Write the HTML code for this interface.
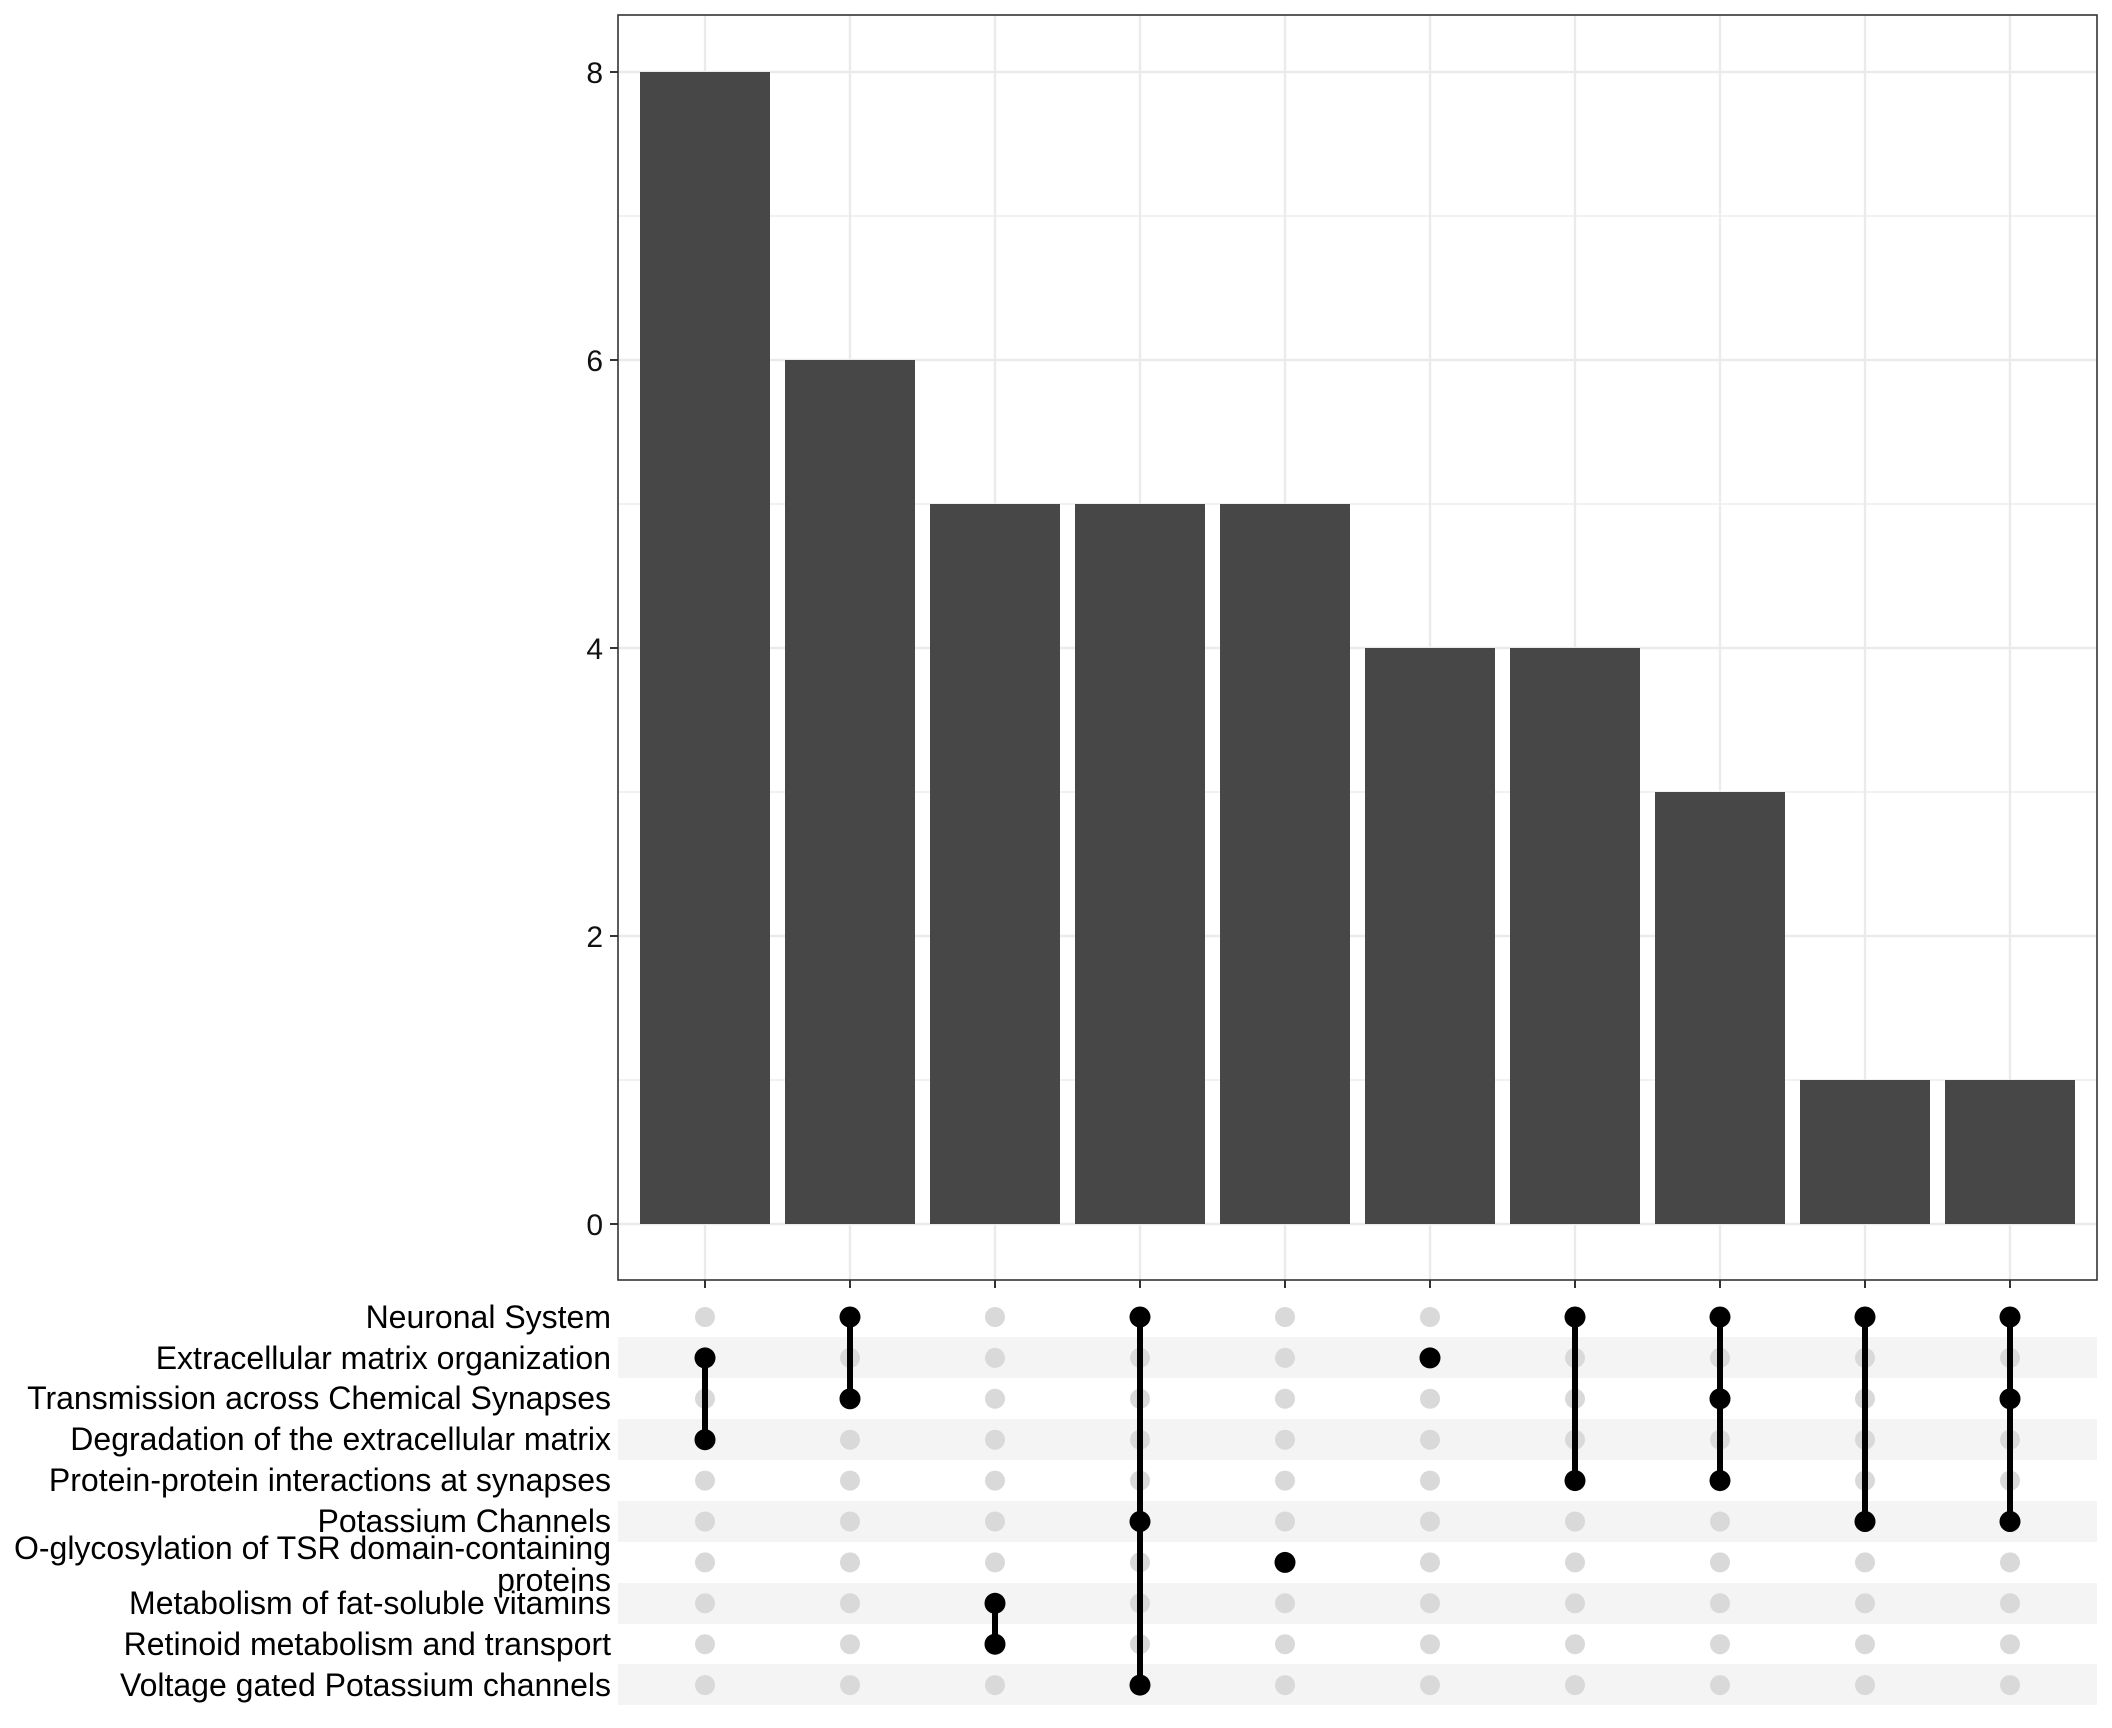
<!DOCTYPE html>
<html><head><meta charset="utf-8"><style>html,body{margin:0;padding:0;background:#fff}svg{display:block}</style></head><body>
<svg width="2112" height="1728" viewBox="0 0 2112 1728" xmlns="http://www.w3.org/2000/svg" font-family="'Liberation Sans', Arial, sans-serif">
<rect width="2112" height="1728" fill="#fff"/>
<g stroke="#ebebeb">
<g stroke-width="1.2">
<line x1="618" x2="2097" y1="1080" y2="1080"/><line x1="618" x2="2097" y1="792" y2="792"/><line x1="618" x2="2097" y1="504" y2="504"/><line x1="618" x2="2097" y1="216" y2="216"/>
</g>
<g stroke-width="2.4">
<line x1="618" x2="2097" y1="1224" y2="1224"/><line x1="618" x2="2097" y1="936" y2="936"/><line x1="618" x2="2097" y1="648" y2="648"/><line x1="618" x2="2097" y1="360" y2="360"/><line x1="618" x2="2097" y1="72" y2="72"/>
<line y1="15" y2="1280" x1="705" x2="705"/><line y1="15" y2="1280" x1="850" x2="850"/><line y1="15" y2="1280" x1="995" x2="995"/><line y1="15" y2="1280" x1="1140" x2="1140"/><line y1="15" y2="1280" x1="1285" x2="1285"/><line y1="15" y2="1280" x1="1430" x2="1430"/><line y1="15" y2="1280" x1="1575" x2="1575"/><line y1="15" y2="1280" x1="1720" x2="1720"/><line y1="15" y2="1280" x1="1865" x2="1865"/><line y1="15" y2="1280" x1="2010" x2="2010"/>
</g></g>
<g fill="#474747">
<rect x="640" y="72" width="130" height="1152"/>
<rect x="785" y="360" width="130" height="864"/>
<rect x="930" y="504" width="130" height="720"/>
<rect x="1075" y="504" width="130" height="720"/>
<rect x="1220" y="504" width="130" height="720"/>
<rect x="1365" y="648" width="130" height="576"/>
<rect x="1510" y="648" width="130" height="576"/>
<rect x="1655" y="792" width="130" height="432"/>
<rect x="1800" y="1080" width="130" height="144"/>
<rect x="1945" y="1080" width="130" height="144"/>
</g>
<rect x="618" y="15" width="1479" height="1265" fill="none" stroke="#333" stroke-width="1.6"/>
<g stroke="#333" stroke-width="2">
<line x1="610" x2="618" y1="1224" y2="1224"/><line x1="610" x2="618" y1="936" y2="936"/><line x1="610" x2="618" y1="648" y2="648"/><line x1="610" x2="618" y1="360" y2="360"/><line x1="610" x2="618" y1="72" y2="72"/>
<line y1="1280" y2="1288" x1="705" x2="705"/><line y1="1280" y2="1288" x1="850" x2="850"/><line y1="1280" y2="1288" x1="995" x2="995"/><line y1="1280" y2="1288" x1="1140" x2="1140"/><line y1="1280" y2="1288" x1="1285" x2="1285"/><line y1="1280" y2="1288" x1="1430" x2="1430"/><line y1="1280" y2="1288" x1="1575" x2="1575"/><line y1="1280" y2="1288" x1="1720" x2="1720"/><line y1="1280" y2="1288" x1="1865" x2="1865"/><line y1="1280" y2="1288" x1="2010" x2="2010"/>
</g>
<g font-size="30" fill="#111" text-anchor="end">
<text x="603" y="1235">0</text><text x="603" y="947">2</text><text x="603" y="659">4</text><text x="603" y="371">6</text><text x="603" y="83">8</text>
</g>
<g fill="#f4f4f4">
<rect x="618" y="1337" width="1479" height="41"/>
<rect x="618" y="1419" width="1479" height="41"/>
<rect x="618" y="1501" width="1479" height="41"/>
<rect x="618" y="1583" width="1479" height="41"/>
<rect x="618" y="1664" width="1479" height="41"/>
</g>
<g font-size="32" fill="#000" text-anchor="end">
<text x="611" y="1328">Neuronal System</text>
<text x="611" y="1369">Extracellular matrix organization</text>
<text x="611" y="1409">Transmission across Chemical Synapses</text>
<text x="611" y="1450">Degradation of the extracellular matrix</text>
<text x="611" y="1491">Protein-protein interactions at synapses</text>
<text x="611" y="1532">Potassium Channels</text>
<text x="611" y="1559">O-glycosylation of TSR domain-containing</text>
<text x="611" y="1591">proteins</text>
<text x="611" y="1614">Metabolism of fat-soluble vitamins</text>
<text x="611" y="1655">Retinoid metabolism and transport</text>
<text x="611" y="1696">Voltage gated Potassium channels</text>
</g>
<g fill="#d9d9d9" id="g"></g>
<script>
(function(){
var ns="http://www.w3.org/2000/svg";var svg=document.querySelector('svg');
var g=document.getElementById('g');
var cols=[705,850,995,1140,1285,1430,1575,1720,1865,2010];
function ry(i){return 1317+40.9*i;}
cols.forEach(function(x){for(var i=0;i<10;i++){var c=document.createElementNS(ns,'circle');c.setAttribute('cx',x);c.setAttribute('cy',ry(i));c.setAttribute('r',10);g.appendChild(c);}});
var sets=[[1,3],[0,2],[7,8],[0,5,9],[6],[1],[0,4],[0,2,4],[0,5],[0,2,5]];
var b=document.createElementNS(ns,'g');svg.appendChild(b);
sets.forEach(function(s,k){var x=cols[k];
 if(s.length>1){var l=document.createElementNS(ns,'line');l.setAttribute('x1',x);l.setAttribute('x2',x);l.setAttribute('y1',ry(s[0]));l.setAttribute('y2',ry(s[s.length-1]));l.setAttribute('stroke','#000');l.setAttribute('stroke-width',6);b.appendChild(l);}
 s.forEach(function(i){var c=document.createElementNS(ns,'circle');c.setAttribute('cx',x);c.setAttribute('cy',ry(i));c.setAttribute('r',10.5);c.setAttribute('fill','#000');b.appendChild(c);});
});
})();
</script>
</svg>
</body></html>
